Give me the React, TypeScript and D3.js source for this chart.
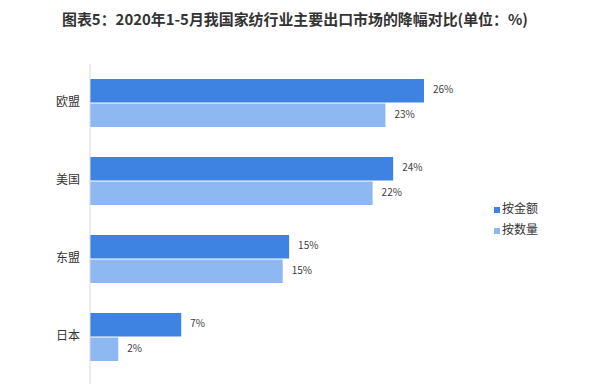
import React from "react";
import * as d3 from "d3";

const categories = ["欧盟", "美国", "东盟", "日本"];
const seriesNames = ["按金额", "按数量"];
const amountValues = [26, 23.6, 15.5, 7.1];
const quantityValues = [23, 22, 15, 2.2];
const labelAmount = ["26%", "24%", "15%", "7%"];
const labelQuantity = ["23%", "22%", "15%", "2%"];
const title = "图表5：2020年1-5月我国家纺行业主要出口市场的降幅对比(单位：%)";

const W = 600;
const H = 384;
const colors = ["#3E83E2", "#8DB8F2"];
const font = "'Noto Sans CJK SC', 'Noto Sans', sans-serif";

export default function App() {
  const x0 = 90;
  const x = d3.scaleLinear().domain([0, 26]).range([x0, 424]);
  const y = d3.scaleBand<string>().domain(categories).range([64, 376]).paddingInner(0.372).paddingOuter(0.186);
  const sub = d3.scaleBand<string>().domain(seriesNames).range([0, y.bandwidth()]).padding(0);
  const series = [amountValues, quantityValues];
  const labels = [labelAmount, labelQuantity];

  return (
    <div style={{ position: "absolute", left: 0, top: 0 }}>
      <svg width={W} height={H} style={{ display: "block", background: "#fff" }}>
        <rect x={0} y={0} width={W} height={H} fill="#fff" />
        <text
          x={295}
          y={25}
          textAnchor="middle"
          fontFamily={font}
          fontWeight="bold"
          fontSize={15}
          fill="#333"
          textLength={466}
          lengthAdjust="spacingAndGlyphs"
        >
          {title}
        </text>
        {categories.map((c, i) => (
          <g key={c}>
            {series.map((vals, s) => {
              const yy = (y(c) as number) + (sub(seriesNames[s]) as number);
              const h = sub.bandwidth();
              return (
                <g key={s}>
                  <rect
                    x={x0}
                    y={yy + 0.5}
                    width={x(vals[i]) - x0}
                    height={h - 1}
                    fill={colors[s]}
                  />
                  <text
                    x={x(vals[i]) + 9}
                    y={yy + h / 2}
                    fontFamily={font}
                    fontSize={10}
                    fill="#404040"
                    dominantBaseline="middle"
                  >
                    {labels[s][i]}
                  </text>
                </g>
              );
            })}
            <text
              x={80}
              y={(y(c) as number) + y.bandwidth() / 2}
              textAnchor="end"
              dominantBaseline="middle"
              fontFamily={font}
              fontSize={12}
              fill="#333"
            >
              {c}
            </text>
          </g>
        ))}
        <line x1={x0} x2={x0} y1={64} y2={H} stroke="#d9d9d9" strokeWidth={1} />
        {seriesNames.map((n, s) => (
          <g key={n} transform={`translate(494, ${210 + s * 21})`}>
            <rect x={0} y={-3} width={6} height={6} fill={colors[s]} />
            <text x={8} y={0} dominantBaseline="middle" fontFamily={font} fontSize={12} fill="#333">
              {n}
            </text>
          </g>
        ))}
      </svg>
    </div>
  );
}
